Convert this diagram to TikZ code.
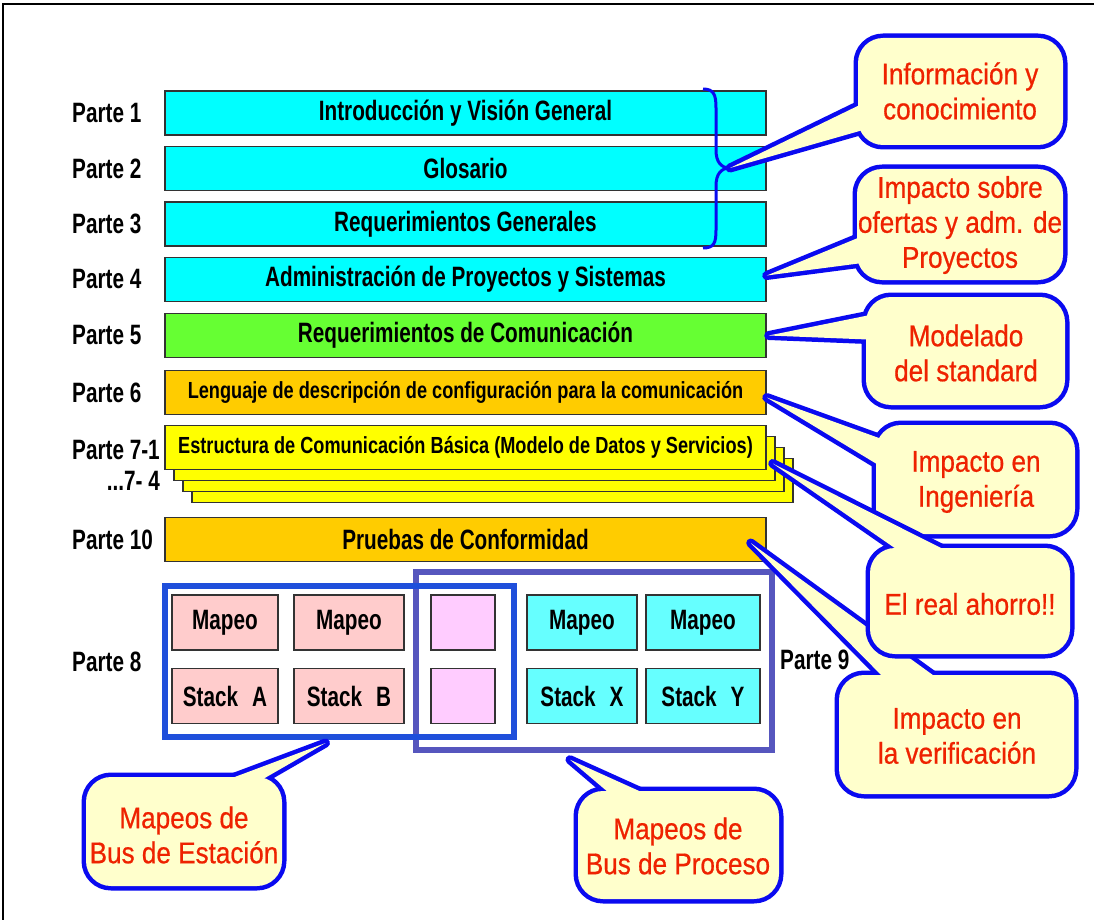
\documentclass[tikz,border=0pt]{standalone}
\usepackage{fontspec}
\setmainfont{Liberation Sans}[FakeStretch=0.74]
\newfontfamily\midfont{Liberation Sans}[FakeStretch=0.78]
\newfontfamily\callfont{Liberation Sans}[FakeStretch=0.87, FakeBold=0.6]
\usetikzlibrary{calc}

\definecolor{barcyan}{HTML}{00FFFF}
\definecolor{bargreen}{HTML}{66FF33}
\definecolor{barorange}{HTML}{FFCC00}
\definecolor{baryellow}{HTML}{FFFF00}
\definecolor{barline}{HTML}{333333}
\definecolor{mappink}{HTML}{FFCCCC}
\definecolor{mapmag}{HTML}{FFCCFF}
\definecolor{mapcyan}{HTML}{66FFFF}
\definecolor{calblue}{HTML}{0A0AF0}
\definecolor{calfill}{HTML}{FFFFCC}
\definecolor{calred}{HTML}{EE2200}
\definecolor{stblue}{HTML}{1F4FDB}
\definecolor{prpurple}{HTML}{5656BE}

\tikzset{
  bar/.style={draw=barline, line width=1.5, minimum width=601, minimum height=44,
    inner sep=0, text=black, font=\bfseries\fontsize{28}{30}\selectfont},
  smallbar/.style={bar, font=\midfont\bfseries\fontsize{23.3}{26}\selectfont},
  lbl/.style={inner sep=0, text=black, font=\bfseries\fontsize{28}{30}\selectfont},
  mapbox/.style={draw=barline, line width=1.5, minimum height=55, inner sep=0,
    font=\bfseries\fontsize{28}{30}\selectfont},
  calledge/.style={draw=calblue, line width=9, line join=round},
  callfill/.style={fill=calfill},
  calltext/.style={align=center, text=calred, inner sep=0,
    font=\callfont\fontsize{30}{35}\selectfont},
}

\begin{document}
\begin{tikzpicture}[x=1pt, y=-1pt]
\useasboundingbox (0,0) rectangle (1094,920);
\fill[white] (0,0) rectangle (1094,920);
% page frame
\draw[black, line width=2] (3,920) -- (3,4) -- (1094,4);

% ---- layers of the standard ----
\node[bar, fill=barcyan] (b1) at (465.5,113) {Introducción y Visión General};
\node[bar, fill=barcyan] (b2) at (465.5,168.5) {Glosario};
\node[bar, fill=barcyan] (b3) at (465.5,224) {Requerimientos Generales};
\node[bar, fill=barcyan] (b4) at (465.5,279.5) {Administración de Proyectos y Sistemas};
\node[bar, fill=bargreen] (b5) at (465.5,335.5) {Requerimientos de Comunicación};
\node[smallbar, fill=barorange] (b6) at (465.5,392.5) {Lenguaje de descripción de configuración para la comunicación};
\node[bar, fill=baryellow] (b7c) at (492.5,480.5) {};
\node[bar, fill=baryellow] (b7b) at (483.5,469.5) {};
\node[bar, fill=baryellow] (b7a) at (474.5,458.5) {};
\node[smallbar, fill=baryellow] (b7) at (465.5,447.5) {Estructura de Comunicación Básica (Modelo de Datos y Servicios)};
\node[bar, fill=barorange] (b10) at (465.5,539.5) {Pruebas de Conformidad};

\node[lbl, anchor=west] (l1) at (72,113) {Parte 1};
\node[lbl, anchor=west] (l2) at (72,168.5) {Parte 2};
\node[lbl, anchor=west] (l3) at (72,224) {Parte 3};
\node[lbl, anchor=west] (l4) at (72,279.5) {Parte 4};
\node[lbl, anchor=west] (l5) at (72,335.5) {Parte 5};
\node[lbl, anchor=west] (l6) at (72,392.5) {Parte 6};
\node[lbl, anchor=west] (l7) at (72,450) {Parte 7-1};
\node[lbl, anchor=east] (l7b) at (160,481) {...7- 4};
\node[lbl, anchor=west] (l10) at (72,539.5) {Parte 10};
\node[lbl, anchor=west] (l8) at (72,662) {Parte 8};
\node[lbl, anchor=west] (l9) at (780,660) {Parte 9};

% ---- mappings ----
\node[mapbox, fill=mappink, minimum width=106] (ma) at (225,622.5) {Mapeo};
\node[mapbox, fill=mappink, minimum width=110] (mb) at (349,622.5) {Mapeo};
\node[mapbox, fill=mappink, minimum width=106] (sa) at (225,696) {Stack\hspace{0.5em}A};
\node[mapbox, fill=mappink, minimum width=110] (sb) at (349,696) {Stack\hspace{0.5em}B};
\node[mapbox, fill=mapmag, minimum width=64] (mm1) at (463,622.5) {};
\node[mapbox, fill=mapmag, minimum width=64] (mm2) at (463,696) {};
\node[mapbox, fill=mapcyan, minimum width=110] (mx) at (582,622.5) {Mapeo};
\node[mapbox, fill=mapcyan, minimum width=114] (my) at (703,622.5) {Mapeo};
\node[mapbox, fill=mapcyan, minimum width=110] (sx) at (582,696) {Stack\hspace{0.5em}X};
\node[mapbox, fill=mapcyan, minimum width=114] (sy) at (703,696) {Stack\hspace{0.5em}Y};

\node[draw=prpurple, line width=5.5, minimum width=356, minimum height=178, inner sep=0] (pbus) at (594,661) {};
\node[draw=stblue, line width=6, minimum width=349, minimum height=151, inner sep=0] (sbus) at (339.5,661.5) {};

% ---- brace over parts 1-3 ----
\coordinate (bracetip) at (730,168);
\draw[calblue, line width=3]
  (703,89) .. controls (714,89) and (716,95) .. (716,108) -- (716,150)
  .. controls (716,162) and (721,168) .. (bracetip)
  .. controls (721,168) and (716,174) .. (716,186) -- (716,230)
  .. controls (716,243) and (714,248) .. (703,248);

% ---- callouts ----
% tip points of the speech-bubble tails
\coordinate (tip2) at ($(b4.east)+(0,-4)$);
\coordinate (tip3) at ($(b5.east)+(2,0)$);
\coordinate (tip4) at ($(b6.east)+(0,5)$);
\coordinate (tip5) at ($(b7a.east)+(-3,5)$);
\coordinate (tip6) at ($(b10.east)+(-16,3.5)$);
\coordinate (tip7) at ($(sbus.south)+(-14,3)$);
\coordinate (tip8) at ($(pbus.south)+(-24,7)$);

% Información y conocimiento
\path[calledge, rounded corners=25] (858,38) rectangle (1063,145);
\path[calledge] (bracetip) -- (870,100) -- (870,128) -- cycle;
\path[callfill, rounded corners=25] (858,38) rectangle (1063,145);
\path[callfill] (bracetip) -- (870,100) -- (870,128) -- cycle;
\node[calltext] (c1) at (960,91) {Información y\\conocimiento};

% Impacto sobre ofertas
\path[calledge, rounded corners=25] (857,169) rectangle (1063,280);
\path[calledge] (tip2) -- (870,233) -- (870,262) -- cycle;
\path[callfill, rounded corners=25] (857,169) rectangle (1063,280);
\path[callfill] (tip2) -- (870,233) -- (870,262) -- cycle;
\node[calltext] (c2) at (960,225) {Impacto sobre\\ofertas y adm. de\\Proyectos};

% Modelado del standard
\path[calledge, rounded corners=25] (866,297) rectangle (1065,405);
\path[calledge] (tip3) -- (880,313) -- (880,340) -- cycle;
\path[callfill, rounded corners=25] (866,297) rectangle (1065,405);
\path[callfill] (tip3) -- (880,313) -- (880,340) -- cycle;
\node[calltext] (c3) at (966,353) {Modelado\\del standard};

% Impacto en la verificación
\path[calledge, rounded corners=25] (839,675) rectangle (1074,794);
\path[calledge] (tip6) -- (892,686) -- (948,686) -- cycle;
\path[callfill, rounded corners=25] (839,675) rectangle (1074,794);
\path[callfill] (tip6) -- (892,686) -- (948,686) -- cycle;
\node[calltext] (c6) at (957,736) {Impacto en\\la verificación};

% Impacto en Ingeniería
\path[calledge, rounded corners=25] (876,425) rectangle (1075,534);
\path[calledge] (tip4) -- (890,442) -- (890,472) -- cycle;
\path[callfill, rounded corners=25] (876,425) rectangle (1075,534);
\path[callfill] (tip4) -- (890,442) -- (890,472) -- cycle;
\node[calltext] (c4) at (976,482) {Impacto en\\Ingeniería};

% El real ahorro!!
\path[calledge, rounded corners=25] (870,548) rectangle (1070,654);
\path[calledge] (tip5) -- (912,560) -- (965,560) -- cycle;
\path[callfill, rounded corners=25] (870,548) rectangle (1070,654);
\path[callfill] (tip5) -- (912,560) -- (965,560) -- cycle;
\node[calltext] (c5) at (970,604) {El real ahorro!!};

% Mapeos de Bus de Estación
\path[calledge, rounded corners=25] (86,777) rectangle (282,886);
\path[calledge] (tip7) -- (200,790) -- (244,790) -- cycle;
\path[callfill, rounded corners=25] (86,777) rectangle (282,886);
\path[callfill] (tip7) -- (200,790) -- (244,790) -- cycle;
\node[calltext] (c7) at (184,835) {Mapeos de\\Bus de Estación};

% Mapeos de Bus de Proceso
\path[calledge, rounded corners=25] (578,791) rectangle (779,899);
\path[calledge] (tip8) -- (622,804) -- (668,804) -- cycle;
\path[callfill, rounded corners=25] (578,791) rectangle (779,899);
\path[callfill] (tip8) -- (622,804) -- (668,804) -- cycle;
\node[calltext] (c8) at (678,846) {Mapeos de\\Bus de Proceso};
\end{tikzpicture}
\end{document}
